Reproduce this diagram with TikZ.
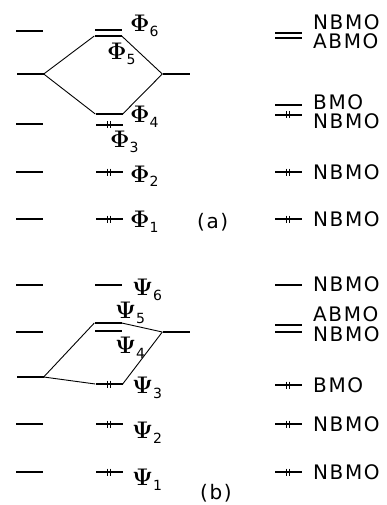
\documentclass[tikz,border=0pt]{standalone}
\usepackage{fontspec}
\setmainfont{DejaVu Sans}[LetterSpace=8]
\newfontfamily\grkfont{Latin Modern Roman}
\usepackage{tikz}
\tikzset{
x=1pt, y=-1pt, % one unit is one pixel, y runs downwards
level/.style={fill=black, minimum width=27pt, minimum height=2.6pt, inner sep=0pt}, % an orbital level
mix/.style={line width=0.9pt}, % the lines between the levels
tag/.style={anchor=base west, inner sep=0pt, font=\fontsize{24}{24}\selectfont}, % Phi and Psi labels
mo/.style={anchor=west, inner sep=0pt, font=\fontsize{20}{20}\selectfont}, % NBMO, ABMO, BMO
}
% label like Phi_6
\newcommand{\orb}[2]{{\grkfont\bfseries #1}\raisebox{-5pt}{\fontsize{14}{14}\selectfont #2}}
% two electrons on a level
\newcommand{\epair}[1]{\draw[line width=1pt] ([xshift=-1.6pt]#1.center) ++(0,-3.5) -- ++(0,7) ([xshift=1.6pt]#1.center) ++(0,-3.5) -- ++(0,7);}

\begin{document}
\begin{tikzpicture}
\useasboundingbox (0,0) rectangle (386,505);

% (a)
\node[level] at (29, 31) (la5) {};
\node[level] at (30, 74) (fa) {};
\node[level] at (29, 124) (la3) {};
\node[level] at (29, 172) (la2) {};
\node[level] at (29, 219) (la1) {};

\node[level] at (108, 30) (p6) {};
\node[level] at (108, 36) (p5) {};
\node[level] at (109, 114) (p4) {};
\node[level] at (109, 125) (p3) {};
\node[level] at (109, 172) (p2) {};
\node[level] at (109, 219) (p1) {};

\node[level] at (176, 74) (ra) {};

\node[level] at (288, 33) (na6) {};
\node[level] at (288, 38) (na5) {};
\node[level] at (288, 105) (na4) {};
\node[level] at (288, 115) (na3) {};
\node[level] at (288, 172) (na2) {};
\node[level] at (288, 219) (na1) {};

\draw[mix] (fa.east) -- (p5.west);
\draw[mix] (p5.east) -- (ra.west);
\draw[mix] (fa.east) -- (p4.west);
\draw[mix] (p4.east) -- (ra.west);

\epair{p3} \epair{p2} \epair{p1}
\epair{na3} \epair{na2} \epair{na1}

\node[tag] at (130, 32) (tp6) {\orb{Φ}{6}};
\node[tag] at (107, 60) (tp5) {\orb{Φ}{5}};
\node[tag] at (130, 123) (tp4) {\orb{Φ}{4}};
\node[tag] at (110, 148) (tp3) {\orb{Φ}{3}};
\node[tag] at (130, 182) (tp2) {\orb{Φ}{2}};
\node[tag] at (130, 227) (tp1) {\orb{Φ}{1}};

\node[mo] at (313, 22) (ma6) {NBMO};
\node[mo] at (313, 41) (ma5) {ABMO};
\node[mo] at (313, 102) (ma4) {BMO};
\node[mo] at (313, 121) (ma3) {NBMO};
\node[mo] at (313, 172) (ma2) {NBMO};
\node[mo] at (313, 219) (ma1) {NBMO};
\node[mo] at (197, 222) (capa) {(a)};

% (b)
\node[level] at (29, 285) (lb5) {};
\node[level] at (29, 332) (lb4) {};
\node[level] at (30, 377) (fb) {};
\node[level] at (29, 424) (lb2) {};
\node[level] at (29, 472) (lb1) {};

\node[level] at (108, 285) (q6) {};
\node[level] at (108, 323) (q5) {};
\node[level] at (108, 331) (q4) {};
\node[level] at (109, 384) (q3) {};
\node[level] at (109, 424) (q2) {};
\node[level] at (109, 472) (q1) {};

\node[level] at (176, 332) (rb) {};

\node[level] at (288, 285) (nb6) {};
\node[level] at (288, 325) (nb5) {};
\node[level] at (288, 332) (nb4) {};
\node[level] at (288, 385) (nb3) {};
\node[level] at (288, 424) (nb2) {};
\node[level] at (288, 472) (nb1) {};

\draw[mix] (fb.east) -- (q5.west);
\draw[mix] (fb.east) -- (q3.west);
\draw[mix] (q5.east) -- (rb.west);
\draw[mix] (q3.east) -- (rb.west);

\epair{q3} \epair{q2} \epair{q1}
\epair{nb3} \epair{nb2} \epair{nb1}

\node[tag] at (132, 295) (tq6) {\orb{Ψ}{6}};
\node[tag] at (115, 318) (tq5) {\orb{Ψ}{5}};
\node[tag] at (115, 353) (tq4) {\orb{Ψ}{4}};
\node[tag] at (132, 393) (tq3) {\orb{Ψ}{3}};
\node[tag] at (132, 438) (tq2) {\orb{Ψ}{2}};
\node[tag] at (132, 485) (tq1) {\orb{Ψ}{1}};

\node[mo] at (313, 284) (mb6) {NBMO};
\node[mo] at (313, 314) (mb5) {ABMO};
\node[mo] at (313, 334) (mb4) {NBMO};
\node[mo] at (313, 385) (mb3) {BMO};
\node[mo] at (313, 424) (mb2) {NBMO};
\node[mo] at (313, 472) (mb1) {NBMO};
\node[mo] at (200, 493) (capb) {(b)};

\end{tikzpicture}
\end{document}
